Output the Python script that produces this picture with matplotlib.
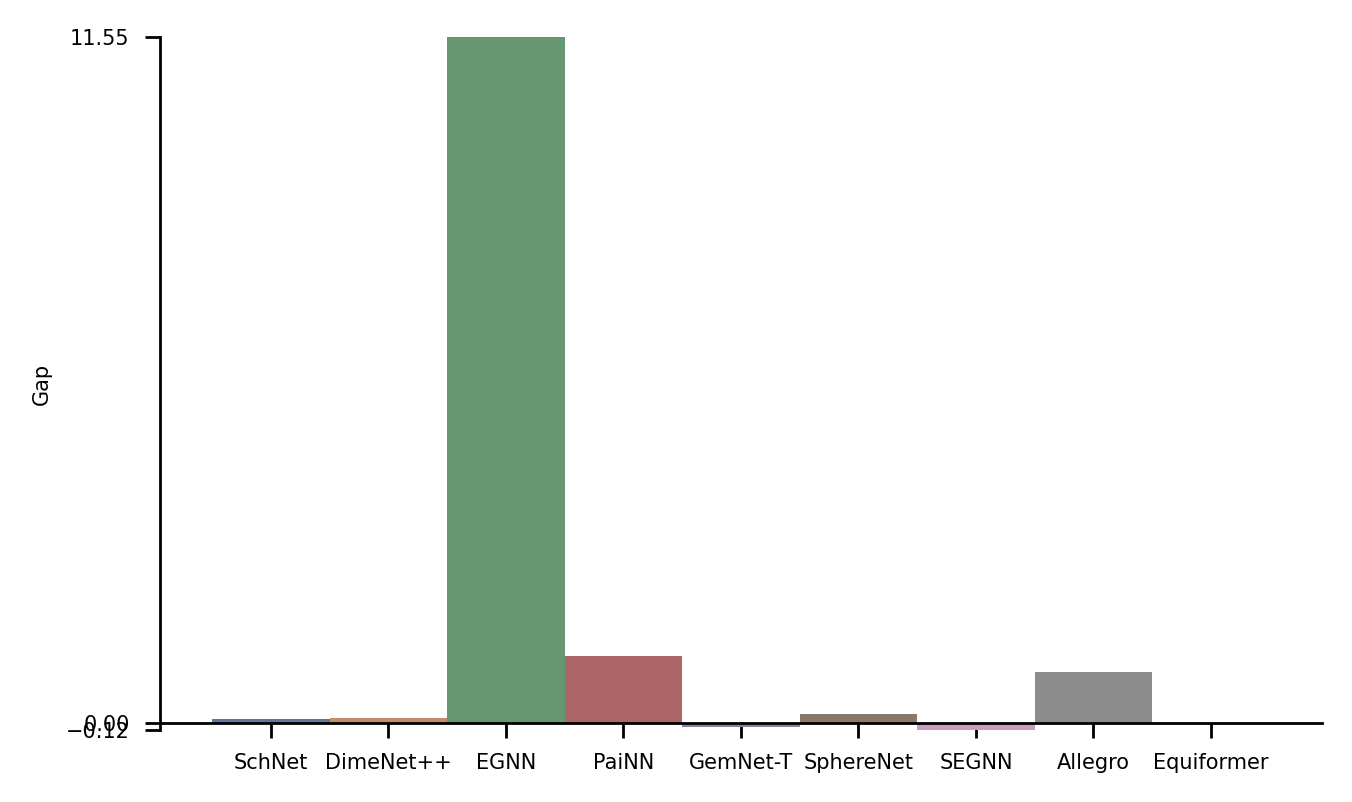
import numpy as np
import matplotlib
matplotlib.use("Agg")
import matplotlib.pyplot as plt
import seaborn as sns

models = ["SchNet", "DimeNet++", "EGNN", "PaiNN", "GemNet-T",
          "SphereNet", "SEGNN", "Allegro", "Equiformer"]
gap = [0.06, 0.08, 11.55, 1.13, -0.07, 0.15, -0.12, 0.86, 0.0]

# seaborn "deep" palette, toned down
colors = [sns.desaturate(c, 0.6) for c in sns.color_palette("deep", len(models))]

plt.rcParams['font.family'] = ['DejaVu Sans']
fig = plt.figure(figsize=(6.76, 4.01), dpi=200)
ax = fig.add_axes([0.1183, 0.0898, 0.8595, 0.8641])

x = np.arange(len(models))
ax.bar(x, gap, width=1.0, color=colors, linewidth=0, zorder=3)

ymin, ymax = min(gap), max(gap)
ax.set_ylim(ymin, ymax)
ax.set_xlim(-0.945, 8.945)
ax.set_yticks([ymin, 0.0, ymax])
ax.set_yticklabels([f"{ymin:.2f}".replace("-", "\u2212"), "0.00", f"{ymax:.2f}"])
ax.set_xticks(x)
ax.set_xticklabels(models)

for s in ["top", "right"]:
    ax.spines[s].set_visible(False)
ax.spines["bottom"].set_position(("data", 0))
for s in ["left", "bottom"]:
    ax.spines[s].set_linewidth(1.0)
    ax.spines[s].set_zorder(4)
ax.tick_params(axis="both", length=5.4, width=1.0, labelsize=7.5)
ax.tick_params(axis="y", pad=5.5)
ax.tick_params(axis="x", pad=5.5)
ax.set_ylabel("Gap", fontsize=7.5, labelpad=5)

fig.savefig("out.png", dpi=200)
